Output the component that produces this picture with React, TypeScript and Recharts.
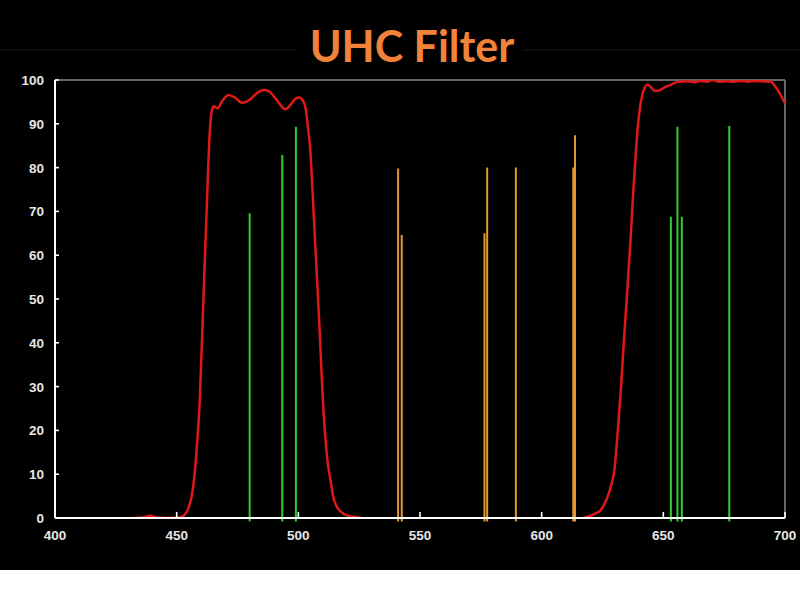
import React from 'react';
import { LineChart, Line, XAxis, YAxis, ReferenceLine } from 'recharts';

// Filter transmission curve (wavelength nm -> transmission %)
const curveWavelengths = [
  432, 436, 439, 442, 446, 451, 453, 455, 456.5, 458, 459.5, 461, 462.5, 463.5, 464.3, 465.2,
  466.8, 468.5, 471.3, 474, 476.8, 480, 483, 485.7, 488, 491, 494.7, 497, 499, 500.3, 502, 503,
  504, 504.8, 506.3, 508.4, 510.4, 512, 513.2, 514.5, 516, 518, 520, 524, 526,
  570,
  617, 619, 622, 624.3, 626.5, 628.4, 630, 631.1, 632.5, 633.9, 635.2, 636.6, 637.7, 638.7,
  639.8, 640.7, 642, 643.5, 645, 646.5, 648.3, 650.5, 653.1, 655, 657.2, 660, 663, 665, 668,
  670, 673, 676, 679, 682, 685, 688, 691, 694.2, 696, 698, 700,
];
const curveValues: (number | null)[] = [
  0, 0.1, 0.5, 0.1, 0, 0.1, 0.6, 2.5, 6, 14, 27, 50, 73, 87, 92.5, 94,
  93.5, 95, 96.6, 96, 94.8, 95.5, 97, 97.7, 97.4, 95.5, 93.3, 94.5, 95.8, 96, 95.2, 93.5,
  89, 84.8, 69.6, 46.8, 24, 13, 8.7, 4.5, 2.4, 1.2, 0.6, 0.2, 0,
  null,
  0, 0.3, 1, 1.8, 4, 7.1, 11.5, 18.6, 29, 41.4, 52, 64.2, 75, 83.3,
  91, 94.7, 97.8, 98.9, 98.3, 97.5, 97.6, 98.3, 98.9, 99.4, 99.6, 99.7, 99.5, 99.8, 99.6,
  100, 99.6, 99.7, 99.6, 99.8, 99.6, 99.8, 99.7, 99.6, 98.5, 96.8, 94.7,
];

// Emission lines
const greenLineWavelengths = [480, 493.4, 499, 653.1, 655.8, 657.6, 677.1];
const greenLineHeights = [69.6, 82.9, 89.3, 68.8, 89.3, 68.8, 89.5];
const orangeLineWavelengths = [541, 542.5, 576.5, 577.6, 589.4, 613, 613.7];
const orangeLineHeights = [79.8, 64.6, 65, 80, 80, 80, 87.4];

const xTicks = [400, 450, 500, 550, 600, 650, 700];
const yTicks = [0, 10, 20, 30, 40, 50, 60, 70, 80, 90, 100];
const xDomain = [400, 700];
const yDomain = [0, 100];
const lineBase = -0.8;

const data = curveWavelengths.map((wl, i) => ({ wl, t: curveValues[i] }));

const tickFont = {
  fontFamily: '"Liberation Sans", Arial, sans-serif',
  fontWeight: 700,
  fontSize: 13.5,
  fill: '#e6e6e6',
};

const XTick = (props: any) => {
  const { x, y, payload } = props;
  return (
    <g>
      <line x1={x} x2={x} y1={y} y2={y - 6} stroke="#ffffff" strokeWidth={1.6} />
      <text x={x} y={y + 22} textAnchor="middle" {...tickFont}>
        {payload.value}
      </text>
    </g>
  );
};

const YTick = (props: any) => {
  const { x, y, payload } = props;
  return (
    <g>
      <line x1={x} x2={x + 4} y1={y} y2={y} stroke="#ffffff" strokeWidth={1.6} />
      <text x={x - 11} y={y + 5} textAnchor="end" {...tickFont}>
        {payload.value}
      </text>
    </g>
  );
};

export default function App() {
  return (
    <div style={{ position: 'absolute', left: 0, top: 0, width: 800, height: 600, background: '#ffffff' }}>
      <div style={{ position: 'absolute', left: 0, top: 0, width: 800, height: 570, background: '#000000' }}>
        <svg width={800} height={80} style={{ position: 'absolute', left: 0, top: 0 }}>
          <line x1={0} x2={296} y1={50} y2={50} stroke="#1c1c1c" strokeWidth={1} />
          <line x1={525} x2={800} y1={50} y2={50} stroke="#1c1c1c" strokeWidth={1} />
          <text
            x={412}
            y={62}
            textAnchor="middle"
            fill="#F0823A"
            fontFamily="Lato, 'Open Sans', sans-serif"
            fontWeight={700}
            fontSize={43}
          >
            UHC Filter
          </text>
        </svg>
        <div style={{ position: 'absolute', left: 0, top: 0 }}>
          <LineChart
            width={800}
            height={570}
            data={data}
            margin={{ top: 80, right: 15, left: 10, bottom: 12 }}
          >
            <XAxis
              type="number"
              dataKey="wl"
              domain={xDomain}
              ticks={xTicks}
              interval={0}
              height={40}
              tickSize={0}
              tickMargin={0}
              tickLine={false}
              axisLine={{ stroke: '#ffffff', strokeWidth: 2 }}
              tick={<XTick />}
              allowDataOverflow
            />
            <YAxis
              type="number"
              domain={yDomain}
              ticks={yTicks}
              interval={0}
              width={45}
              tickSize={0}
              tickMargin={0}
              tickLine={false}
              axisLine={{ stroke: '#ffffff', strokeWidth: 2 }}
              tick={<YTick />}
              allowDataOverflow
            />
            <ReferenceLine y={yDomain[1]} stroke="#8a8a8a" strokeWidth={1.5} />
            <ReferenceLine x={xDomain[1]} stroke="#8a8a8a" strokeWidth={1.5} />
            {greenLineWavelengths.map((wl, i) => (
              <ReferenceLine
                key={'g' + i}
                ifOverflow="visible"
                segment={[
                  { x: wl, y: lineBase },
                  { x: wl, y: greenLineHeights[i] },
                ]}
                stroke="#2fcf2f"
                strokeWidth={2}
              />
            ))}
            {orangeLineWavelengths.map((wl, i) => (
              <ReferenceLine
                key={'o' + i}
                ifOverflow="visible"
                segment={[
                  { x: wl, y: lineBase },
                  { x: wl, y: orangeLineHeights[i] },
                ]}
                stroke="#E09A2E"
                strokeWidth={2}
              />
            ))}
            <Line
              type="monotone"
              dataKey="t"
              stroke="#e01818"
              strokeWidth={2.5}
              dot={false}
              activeDot={false}
              connectNulls={false}
              isAnimationActive={false}
            />
          </LineChart>
        </div>
      </div>
    </div>
  );
}
